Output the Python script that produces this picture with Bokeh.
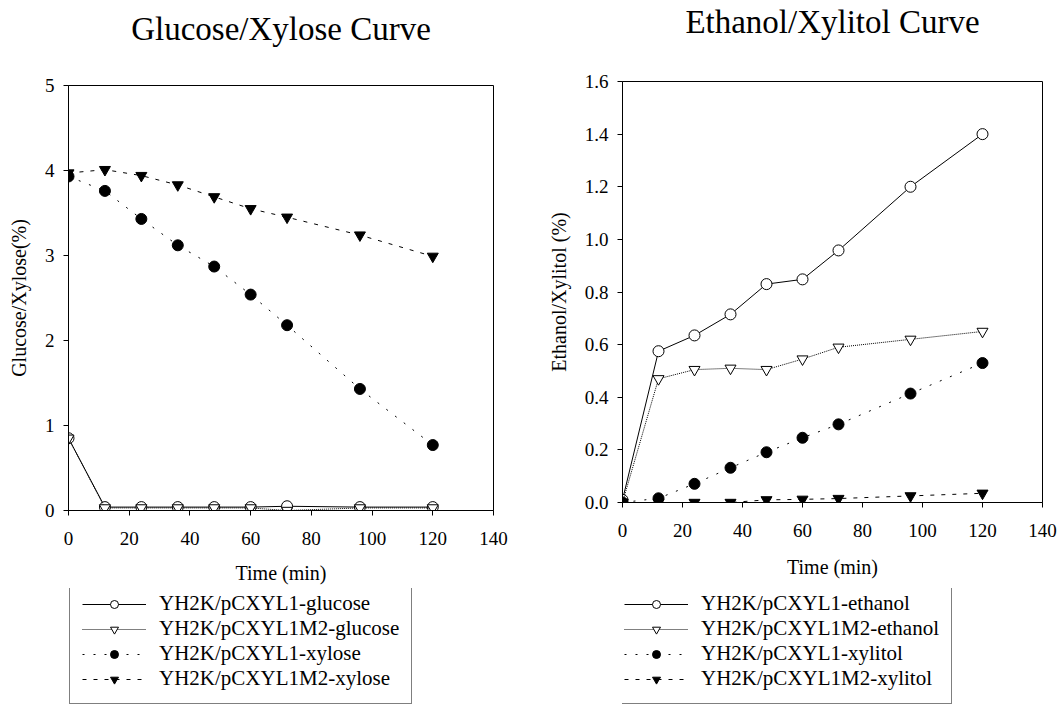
from bokeh.plotting import figure
from bokeh.models import Legend, LegendItem, FixedTicker, NumeralTickFormatter, Range1d, Title
from bokeh.layouts import row, column
from bokeh.embed import file_html
from bokeh.resources import INLINE

# ---------------- data ----------------
time = [0, 12, 24, 36, 48, 60, 72, 96, 120]

glucose_l1 = [0.85, 0.04, 0.04, 0.04, 0.04, 0.04, 0.05, 0.04, 0.04]
glucose_l1m2 = [0.85, 0.03, 0.03, 0.03, 0.03, 0.03, 0.0, 0.03, 0.03]
xylose_l1 = [3.93, 3.76, 3.43, 3.12, 2.87, 2.54, 2.18, 1.43, 0.77]
xylose_l1m2 = [3.97, 4.01, 3.94, 3.83, 3.69, 3.55, 3.45, 3.24, 2.99]

ethanol_l1 = [0.01, 0.575, 0.635, 0.715, 0.83, 0.848, 0.958, 1.20, 1.40]
ethanol_l1m2 = [0.0, 0.47, 0.505, 0.51, 0.505, 0.545, 0.59, 0.62, 0.65]
xylitol_l1 = [0.0, 0.016, 0.071, 0.132, 0.191, 0.246, 0.297, 0.414, 0.53]
xylitol_l1m2 = [0.0, 0.0, 0.0, 0.0, 0.01, 0.012, 0.015, 0.025, 0.035]

left_labels = ["YH2K/pCXYL1-glucose", "YH2K/pCXYL1M2-glucose",
               "YH2K/pCXYL1-xylose", "YH2K/pCXYL1M2-xylose"]
right_labels = ["YH2K/pCXYL1-ethanol", "YH2K/pCXYL1M2-ethanol",
                "YH2K/pCXYL1-xylitol", "YH2K/pCXYL1M2-xylitol"]

x_ticks = [0, 20, 40, 60, 80, 100, 120, 140]
left_y_ticks = [0, 1, 2, 3, 4, 5]
right_y_ticks = [0.0, 0.2, 0.4, 0.6, 0.8, 1.0, 1.2, 1.4, 1.6]

FONT = "Liberation Serif"

styles = [
    dict(marker="circle", fill="white", dash="solid"),
    dict(marker="inverted_triangle", fill="white", dash="1 1"),
    dict(marker="circle", fill="black", dash="2 9"),
    dict(marker="inverted_triangle", fill="black", dash="4 7"),
]


def draw_series(p, series):
    rs = []
    for ys, st in zip(series, styles):
        lr = p.line(time, ys, line_color="black", line_width=1,
                    line_dash=st["dash"])
        sr = p.scatter(time, ys, marker=st["marker"], size=11,
                       fill_color=st["fill"], line_color="black",
                       line_width=1)
        rs.append([lr, sr])
    return rs


def make_plot(title, ylabel, series, yticks, ymax, yfmt,
              width, height, bl, br, bt, bb, gap_standoff,
              x_std, x_lab_std):
    p = figure(width=width, height=height, output_backend="svg",
               toolbar_location=None, x_range=Range1d(0, 140),
               y_range=Range1d(0, ymax),
               min_border_left=bl, min_border_right=br,
               min_border_top=bt, min_border_bottom=bb)
    # spacer title between the frame and the real title
    p.add_layout(Title(text=" ", text_font_size="10px",
                       standoff=gap_standoff), "above")
    p.title.text = title
    p.title.text_font = FONT
    p.title.text_font_size = "33px"
    p.title.text_font_style = "normal"
    p.title.text_color = "black"
    p.title.align = "center"
    p.title.standoff = 0
    p.grid.visible = False
    p.outline_line_color = "black"
    p.outline_line_width = 1
    p.background_fill_color = "white"
    p.border_fill_color = "white"

    for ax in (p.xaxis[0], p.yaxis[0]):
        ax.axis_line_color = "black"
        ax.major_tick_line_color = "black"
        ax.major_tick_out = 5
        ax.major_tick_in = 0
        ax.minor_tick_line_color = None
        ax.major_label_text_font = FONT
        ax.major_label_text_font_size = "19px"
        ax.major_label_text_color = "black"
        ax.axis_label_text_font = FONT
        ax.axis_label_text_font_size = "20px"
        ax.axis_label_text_font_style = "normal"
        ax.axis_label_text_color = "black"

    p.xaxis.ticker = FixedTicker(ticks=x_ticks)
    p.yaxis.ticker = FixedTicker(ticks=yticks)
    p.yaxis.formatter = NumeralTickFormatter(format=yfmt)
    p.xaxis.axis_label = "Time (min)"
    p.yaxis.axis_label = ylabel
    p.xaxis.major_label_standoff = x_std
    p.yaxis.major_label_standoff = 9
    p.xaxis.axis_label_standoff = x_lab_std
    p.yaxis.axis_label_standoff = 12
    draw_series(p, series)
    return p


def make_legend_fig(series, labels, width, height, bl, loc, overlap):
    f = figure(width=width, height=height, output_backend="svg",
               toolbar_location=None, x_axis_type=None, y_axis_type=None,
               x_range=Range1d(1000, 1001), y_range=Range1d(1000, 1001),
               min_border_left=bl, min_border_right=0,
               min_border_top=0, min_border_bottom=0,
               margin=(-overlap, 0, 0, 0))
    f.outline_line_color = None
    f.grid.visible = False
    f.background_fill_alpha = 0
    f.border_fill_alpha = 0
    rs = draw_series(f, series)
    items = [LegendItem(label=lab, renderers=r) for lab, r in zip(labels, rs)]
    legend = Legend(items=items, location=loc)
    legend.label_text_font = FONT
    legend.label_text_font_size = "21px"
    legend.label_text_color = "black"
    legend.border_line_color = "black"
    legend.border_line_width = 1
    legend.glyph_width = 64
    legend.glyph_height = 20
    legend.label_height = 20
    legend.label_standoff = 13
    legend.padding = 12
    legend.spacing = -3
    legend.margin = 0
    legend.background_fill_color = "white"
    f.add_layout(legend)
    return f


left_series = [glucose_l1, glucose_l1m2, xylose_l1, xylose_l1m2]
right_series = [ethanol_l1, ethanol_l1m2, xylitol_l1, xylitol_l1m2]

p1 = make_plot("Glucose/Xylose Curve", "Glucose/Xylose(%)", left_series,
               left_y_ticks, 5, "0", 540, 600, 68, 47, 85, 90, 26, 16, 14)
p2 = make_plot("Ethanol/Xylitol Curve", "Ethanol/Xylitol (%)", right_series,
               right_y_ticks, 1.6, "0.0", 522, 600, 82, 20, 81, 98, 29, 16, 16)

l1 = make_legend_fig(left_series, left_labels, 540, 121, 68, (1, 5), 12)
l2 = make_legend_fig(right_series, right_labels, 522, 121, 82, (-11, 5), 12)

layout = row(column(p1, l1), column(p2, l2))
open("out.html", "w").write(file_html(layout, INLINE))
